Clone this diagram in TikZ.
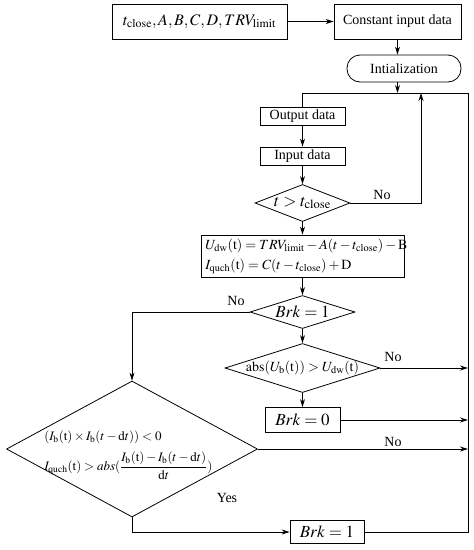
\documentclass[tikz,border=0pt]{standalone}
\usepackage{mathptmx}
\usepackage{fontspec}
\setmainfont{Liberation Serif}
\usetikzlibrary{shapes.geometric,arrows.meta}
\begin{document}
\begin{tikzpicture}[x=1pt,y=-1pt, line width=0.8pt,
  box/.style={draw, rectangle, inner sep=0pt, font=\fontsize{14}{16}\selectfont},
  dia/.style={draw, diamond, inner sep=0pt},
  arr/.style={-{Stealth[length=8pt,width=5pt]}},
  lbl/.style={inner sep=0pt, font=\fontsize{14}{16}\selectfont}]
\useasboundingbox (0,0) rectangle (474,550);
% nodes
\node[box, minimum width=175, minimum height=35] (par) at (199.5,21.5)
  {\fontsize{16}{18}\selectfont $t_{\mathrm{close}},A,B,C,D,TRV_{\mathrm{limit}}$};
\node[box, minimum width=127, minimum height=35] (con) at (397.5,21.5) {Constant input data};
\node[box, rounded corners=13pt, minimum width=114, minimum height=27] (ini) at (404,68.5) {Intialization};
\node[box, minimum width=85, minimum height=18] (out) at (302.5,116) {Output data};
\node[box, minimum width=85, minimum height=18] (inp) at (302.5,156) {Input data};
\node[dia, minimum width=95, minimum height=37] (d1) at (302.5,203) {};
\node[lbl] (d1t) at (d1) {\fontsize{17}{18}\selectfont $t>t_{\mathrm{close}}$};
\node[box, minimum width=203, minimum height=42] (frm) at (302.5,256) {};
\node[lbl, anchor=west, align=left, font=\fontsize{14}{20}\selectfont] (frmt) at (205,256)
  {$U_{\mathrm{dw}}(\mathrm{t})=TRV_{\mathrm{limit}}-A(t-t_{\mathrm{close}})-\mathrm{B}$\\
   $I_{\mathrm{quch}}(\mathrm{t})=C(t-t_{\mathrm{close}})+\mathrm{D}$};
\node[dia, minimum width=105, minimum height=33] (d2) at (302.5,312) {};
\node[lbl] (d2t) at (d2) {\fontsize{17}{18}\selectfont $Brk=1$};
\node[dia, minimum width=155, minimum height=49] (d3) at (302.5,368) {};
\node[lbl] (d3t) at (d3) {$\mathrm{abs}(U_{\mathrm{b}}(\mathrm{t}))>U_{\mathrm{dw}}(\mathrm{t})$};
\node[box, minimum width=75, minimum height=25] (b0) at (302.5,420)
  {\fontsize{17}{18}\selectfont $Brk=0$};
\node[dia, minimum width=251, minimum height=136] (d4) at (132,449) {};
\node[lbl, anchor=west, align=left, font=\fontsize{13}{30}\selectfont] (d4t) at (44,455)
  {$(I_{\mathrm{b}}(\mathrm{t})\times I_{\mathrm{b}}(t-\mathrm{d}t))<0$\\
   $I_{\mathrm{quch}}(\mathrm{t})>abs(\displaystyle\frac{I_{\mathrm{b}}(\mathrm{t})-I_{\mathrm{b}}(t-\mathrm{d}t)}{\mathrm{d}t})$};
\node[box, minimum width=74, minimum height=23] (b1) at (327,532)
  {\fontsize{17}{18}\selectfont $Brk=1$};
% junctions
\coordinate (rx) at (468,93);
\coordinate (lx) at (302.5,93);
\coordinate (j1) at (397.5,93);
\coordinate (j2) at (421,93);
% connectors
\draw[arr] (par) -- (con);
\draw[arr] (con.south) -- (con.south |- ini.north);
\draw[arr] (con.south |- ini.south) -- (j1);
\draw[arr] (out) -- (inp);
\draw[arr] (inp) -- (d1);
\draw[arr] (d1.east) -- (j2 |- d1.east) -- (j2);
\node[lbl] (no1) at (382,195) {No};
\draw[arr] (d1) -- (frm);
\draw[arr] (frm) -- (d2);
\draw[arr] (d2.west) -- (d4.north |- d2.west) -- (d4.north);
\node[lbl] (no2) at (236,301) {No};
\draw[arr] (d2) -- (d3);
\draw[arr] (d3.east) -- (rx |- d3.east);
\node[lbl] (no3) at (393,357) {No};
\draw[arr] (d3) -- (b0);
\draw[arr] (b0.east) -- (rx |- b0.east);
\draw[arr] (d4.east) -- (rx |- d4.east);
\node[lbl] (no4) at (393,442) {No};
\draw[arr] (d4.south) -- (d4.south |- b1.west) -- (b1.west);
\node[lbl] (yes) at (227,498) {Yes};
\draw (b1.east) -- (rx |- b1.east) -- (rx) -- (lx) -- (out.north);
\end{tikzpicture}
\end{document}
